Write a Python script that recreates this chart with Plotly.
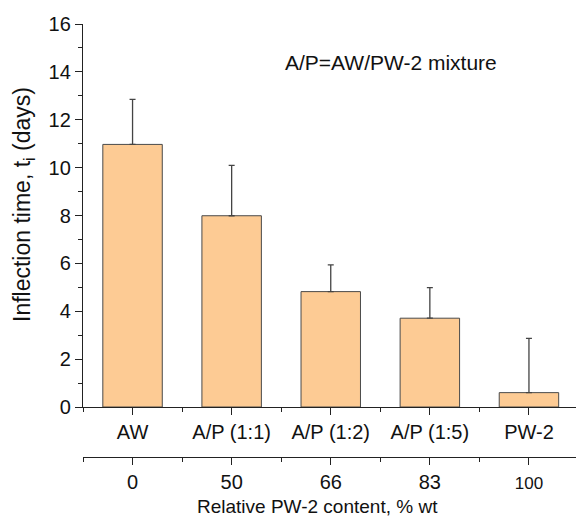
import plotly.graph_objects as go

categories = ["AW", "A/P (1:1)", "A/P (1:2)", "A/P (1:5)", "PW-2"]
pw2_content = ["0", "50", "66", "83", "<span style='font-size:17px'>100</span>"]
inflection_days = [10.97, 7.99, 4.82, 3.71, 0.60]
error_plus = [1.88, 2.10, 1.12, 1.28, 2.27]

x_pos = list(range(1, len(categories) + 1))
minor_pos = [p - 0.5 for p in x_pos] + [x_pos[-1] + 0.5]

W, H = 576, 519
ml, mr, mt, mb = 83, 0, 24, 62
plot_h = H - mt - mb
y_dom0 = 50 / plot_h

FONT = "Liberation Sans, Arial, sans-serif"
AX = "#222222"

fig = go.Figure()
fig.add_trace(go.Bar(
    x=x_pos, y=inflection_days, width=0.6,
    marker=dict(color="#FDCB94", line=dict(color="#4a4a4a", width=1)),
    error_y=dict(type="data", symmetric=False, array=error_plus,
                 arrayminus=[0] * len(error_plus), color="#444444",
                 thickness=1.3, width=3),
    showlegend=False, hoverinfo="skip",
))
fig.add_trace(go.Scatter(
    x=x_pos, y=inflection_days, xaxis="x2", yaxis="y", mode="markers",
    marker=dict(opacity=0), showlegend=False, hoverinfo="skip",
))

xr = [0.5, 0.5 + (W - ml - mr) / 99.1]

common_x = dict(
    range=xr, tickmode="array", tickvals=x_pos, ticks="outside", ticklen=7,
    tickwidth=1.3, tickcolor=AX, showline=True, linecolor=AX, linewidth=1.3,
    showgrid=False, zeroline=False,
    minor=dict(tickmode="array", tickvals=minor_pos, ticks="outside",
               ticklen=4, tickwidth=1.3, tickcolor=AX, showgrid=False),
    tickfont=dict(family=FONT, size=20, color="#111"),
)

fig.update_layout(
    width=W, height=H,
    margin=dict(l=ml, r=mr, t=mt, b=mb, pad=0),
    paper_bgcolor="white", plot_bgcolor="white",
    xaxis=dict(**common_x, ticktext=categories, anchor="y", domain=[0, 1]),
    xaxis2=dict(**common_x, ticktext=pw2_content, overlaying="x",
                anchor="free", position=0, side="bottom"),
    yaxis=dict(range=[0, 16], domain=[y_dom0, 1], anchor="x",
               tickmode="linear", tick0=0, dtick=2, ticks="outside",
               ticklen=7, tickwidth=1.3, tickcolor=AX, showline=True,
               linecolor=AX, linewidth=1.3, showgrid=False, zeroline=False,
               minor=dict(dtick=1, ticks="outside", ticklen=4, tickwidth=1.3,
                          tickcolor=AX, showgrid=False),
               tickfont=dict(family=FONT, size=20, color="#111")),
    annotations=[
        dict(text="A/P=AW/PW-2 mixture", xref="paper", yref="paper",
             x=(283 - ml) / (W - ml - mr), y=(H - mb - 63) / plot_h,
             xanchor="left", yanchor="middle", showarrow=False,
             font=dict(family=FONT, size=21, color="#111")),
        dict(text="Relative PW-2 content, % wt", xref="paper", yref="paper",
             x=(317 - ml) / (W - ml - mr), y=(H - mb - 507) / plot_h,
             xanchor="center", yanchor="middle", showarrow=False,
             font=dict(family=FONT, size=19, color="#111")),
        dict(text="Inflection time, t<sub>i</sub> (days)", xref="paper",
             yref="paper", x=(23 - ml) / (W - ml - mr),
             y=(H - mb - 205) / plot_h, textangle=-90,
             xanchor="center", yanchor="middle", showarrow=False,
             font=dict(family=FONT, size=23, color="#111")),
    ],
)

fig.write_html("out.html", config={"displayModeBar": False},
               post_script="document.body.style.margin='0';")
